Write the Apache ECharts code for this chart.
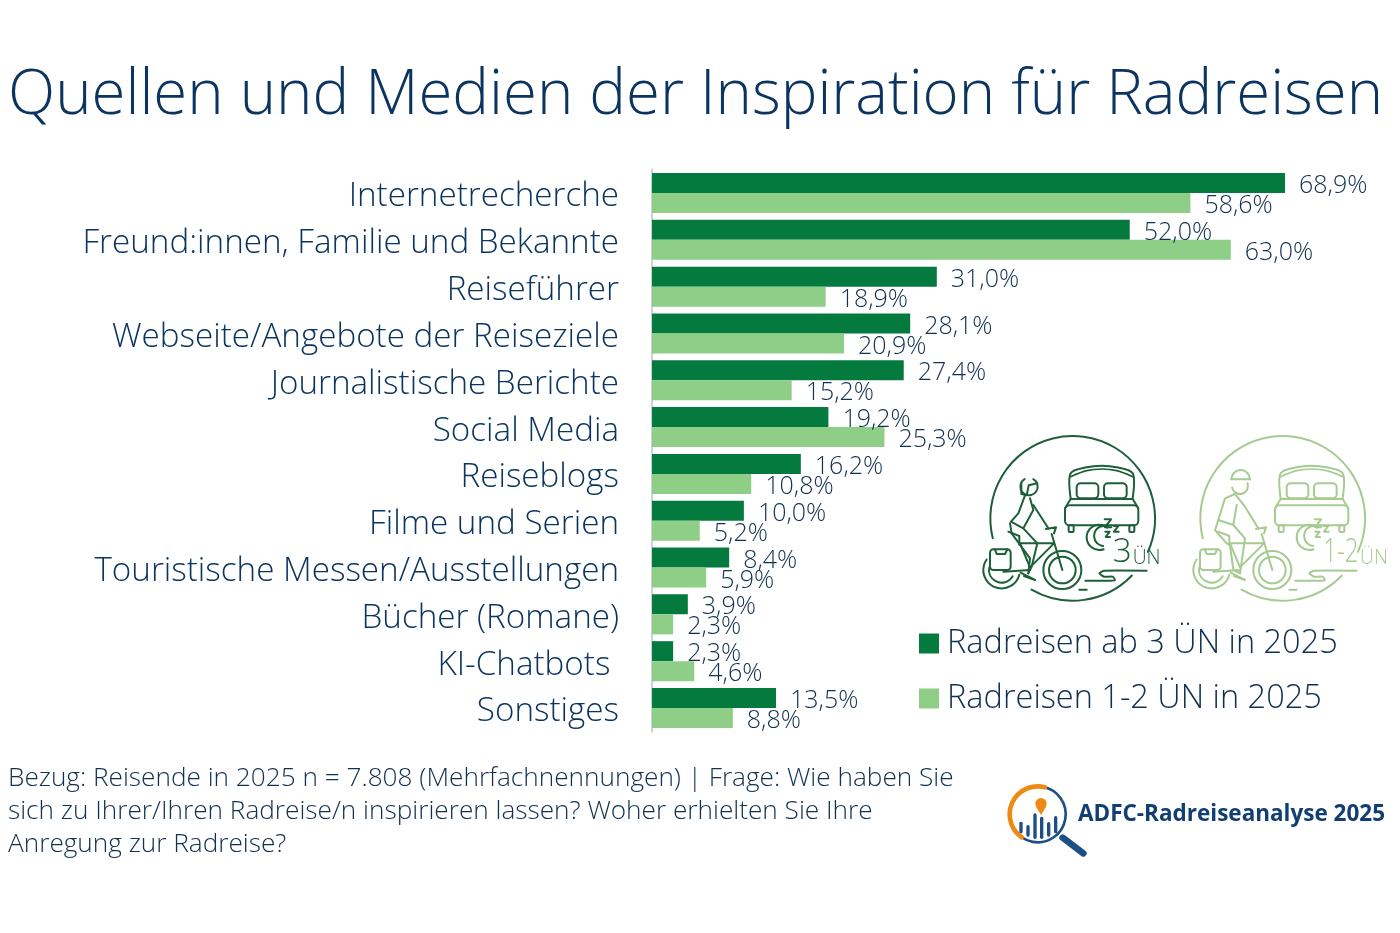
<!DOCTYPE html>
<html><head><meta charset="utf-8">
<style>html,body{margin:0;padding:0;background:#fff}#c{width:1400px;height:933px}</style>
<script src="https://cdn.jsdelivr.net/npm/echarts@6/dist/echarts.min.js"></script>
</head><body><div id="c"></div>
<script>
const categories = ['Internetrecherche','Freund:innen, Familie und Bekannte','Reiseführer','Webseite/Angebote der Reiseziele','Journalistische Berichte','Social Media','Reiseblogs','Filme und Serien','Touristische Messen/Ausstellungen','Bücher (Romane)','KI-Chatbots ','Sonstiges'];
const ab3 = [68.9,52.0,31.0,28.1,27.4,19.2,16.2,10.0,8.4,3.9,2.3,13.5];
const bis2 = [58.6,63.0,18.9,20.9,15.2,25.3,10.8,5.2,5.9,2.3,4.6,8.8];
const seriesNames = ['Radreisen ab 3 ÜN in 2025','Radreisen 1-2 ÜN in 2025'];
const titleText = 'Quellen und Medien der Inspiration für Radreisen';
const noteLines = ['Bezug: Reisende in 2025 n = 7.808 (Mehrfachnennungen) | Frage: Wie haben Sie','sich zu Ihrer/Ihren Radreise/n inspirieren lassen? Woher erhielten Sie Ihre','Anregung zur Radreise?'];

const FONT='"Open Sans"', NAVY='#0b3560', TXT='#123050';
const fmt = p => p.value.toFixed(1).replace('.',',')+'%';

function ln(pts,color,w,smooth){return {type:'polyline',shape:{points:pts,smooth:smooth||0},style:{stroke:color,lineWidth:w||6,fill:null,lineCap:'round',lineJoin:'round'},silent:true};}
function arc(cx,cy,r,a,b,color,w,ccw){return {type:'arc',shape:{cx,cy,r,startAngle:a*Math.PI/180,endAngle:b*Math.PI/180,clockwise:!ccw},style:{stroke:color,lineWidth:w||6,fill:null,lineCap:'round'},silent:true};}
function rr(x,y,w,h,r,color,lw){return {type:'rect',shape:{x,y,width:w,height:h,r},style:{stroke:color,lineWidth:lw||6,fill:null},silent:true};}

function icon(ox,c,man,big,bigX,smallX,bigScale){
  const k=[
    arc(278,265,247,166,384,c,6), arc(278,265,247,44,120,c,6),
    // bed
    ln([[272,205],[272,130],[320,112],[365,107],[410,112],[458,130],[458,205]],c,6,0.3),
    ln([[272,140],[320,122],[365,117],[410,122],[458,140]],c,5,0.3),
    rr(290,160,65,45,12,c), rr(372,160,68,45,12,c),
    ln([[272,207],[458,207],[475,235]],c), ln([[272,207],[255,235]],c),
    rr(255,226,220,60,14,c), rr(266,286,15,20,3,c), rr(448,286,15,20,3,c),
    // moon and z
    arc(358,322,38,-50,70,c,6,true), arc(372,318,30,-70,95,c,6,true),
    ln([[374,268],[393,268],[375,292],[394,292]],c), ln([[402,288],[415,288],[402,305],[416,305]],c), ln([[376,305],[389,305],[377,321],[390,321]],c),
    // road
    ln([[500,422],[372,422],[358,430],[372,440],[398,440],[405,450],[392,452],[316,452]],c,6,0.15), ln([[298,479],[320,479]],c),
    // wheels
    arc(247,420,57,0,360,c), arc(247,420,40,0,360,c),
    arc(65,420,55,15,215,c), arc(65,420,38,30,190,c),
    // pannier
    rr(30,358,62,62,10,c), ln([[45,358],[50,372],[75,372],[82,358]],c),
    // frame
    ln([[247,420],[215,312]],c), ln([[198,297],[228,292],[222,310]],c),
    ln([[222,340],[150,412],[120,340],[222,340]],c), ln([[70,425],[150,420]],c), ln([[85,305],[118,318],[118,345]],c),
    ln([[122,428],[150,442],[165,450],[132,438]],c),
  ];
  if(man){
    k.push(arc(150,168,24,-20,170,c), arc(152,148,28,180,360,c), ln([[124,148],[180,148]],c),
      ln([[135,192],[105,205],[85,270],[130,285],[140,225]],c), ln([[135,192],[165,230],[205,295]],c),
      ln([[85,270],[75,300],[110,340],[120,345]],c), ln([[130,285],[165,325],[150,430]],c), ln([[120,345],[130,420],[150,430]],c));
  } else {
    k.push(arc(147,170,26,-60,240,c), ln([[124,160],[124,192],[140,196],[146,166],[172,160]],c),
      ln([[135,196],[115,250],[93,275],[130,295],[160,240],[150,205]],c), ln([[160,225],[205,295]],c),
      ln([[90,280],[95,310],[150,385],[145,430]],c), ln([[130,295],[172,340],[155,410],[145,430]],c));
  }
  k.push({type:'text',x:bigX,y:418,scaleX:bigScale||1,style:{text:big,font:'300 100px '+FONT,fill:c,textVerticalAlign:'bottom',textBaseline:'bottom'},silent:true});
  k.push({type:'text',x:smallX,y:415,style:{text:'ÜN',font:'300 58px '+FONT,fill:c,textBaseline:'bottom',textVerticalAlign:'bottom'},silent:true});
  return {type:'group',x:ox,y:430,scaleX:1/3,scaleY:1/3,silent:true,children:k};
}

const logo={type:'group',x:1000,y:775,scaleX:1/3,scaleY:1/3,silent:true,children:[
  arc(113,118,84,-80,125,'#1c4f85',8),
  arc(113,118,84,125,285,'#ee8a14',14),
  ln([[188,188],[250,235]],'#1c4f85',20),
  {type:'circle',shape:{cx:123,cy:86,r:17},style:{fill:'#ee8a14'}},
  {type:'polygon',shape:{points:[[108,95],[138,95],[123,120]]},style:{fill:'#ee8a14'}},
  ln([[63,145],[63,170]],'#1c4f85',10),ln([[84,155],[84,180]],'#1c4f85',10),ln([[105,120],[105,187]],'#1c4f85',10),ln([[125,130],[125,187]],'#1c4f85',10),ln([[146,146],[146,180]],'#1c4f85',10),ln([[167,128],[167,170]],'#1c4f85',10),
]};

const chart=echarts.init(document.getElementById('c'),null,{renderer:'canvas'});
const dataLabel={show:true,position:'right',distance:14,offset:[0,3],formatter:fmt,fontFamily:FONT,fontWeight:300,fontSize:25,color:TXT};
chart.setOption({
  animation:false, backgroundColor:'#fff',
  title:{text:titleText,left:3,top:60,textStyle:{fontFamily:FONT,fontWeight:300,fontSize:61.7,color:NAVY}},
  legend:{orient:'vertical',left:914,top:622,itemWidth:20,itemHeight:20,itemGap:22,icon:'rect',selectedMode:false,
    data:seriesNames,textStyle:{fontFamily:FONT,fontWeight:300,fontSize:32.5,color:TXT,padding:[0,0,0,3]}},
  grid:{left:652,top:169.6,width:735,height:561.8,containLabel:false},
  xAxis:{type:'value',min:0,max:80,show:false},
  yAxis:{type:'category',inverse:true,data:categories,
    axisLine:{lineStyle:{color:'#c9d3d8',width:2}},axisTick:{show:false},
    axisLabel:{fontFamily:FONT,fontWeight:300,fontSize:33.2,color:NAVY,margin:33,align:'right',verticalAlign:'top',lineHeight:8}},
  series:[
    {name:seriesNames[0],type:'bar',data:ab3,barWidth:20,barGap:'0%',itemStyle:{color:'#047a3e'},label:dataLabel},
    {name:seriesNames[1],type:'bar',data:bis2,barWidth:20,itemStyle:{color:'#8fce87'},label:dataLabel}
  ],
  graphic:{elements:[
    {type:'text',x:8,y:762,style:{text:noteLines.join('\n'),font:'300 26.2px '+FONT,fill:TXT,lineHeight:33},silent:true},
    {type:'text',x:1078,y:803,style:{text:'ADFC-Radreiseanalyse 2025',font:'700 22.5px '+FONT,fill:'#123f73'},silent:true},
    logo,
    icon(980,'#1c5f38',false,'3',398,458),
    icon(1190,'#a6cb90',true,'1-2',400,510,0.72)
  ]}
});
</script></body></html>
